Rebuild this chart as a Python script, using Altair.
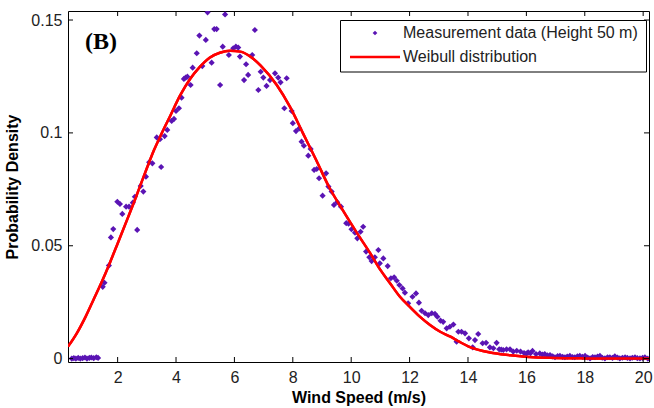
import altair as alt
import pandas as pd

# ---- measurement data (wind speed m/s, probability density) ----
meas_x = [0.43, 0.50, 0.57, 0.65, 0.72, 0.80, 0.88, 0.95, 1.03, 1.10, 1.18, 1.27, 1.33,
          1.49, 1.55, 1.70, 1.77, 1.85, 1.99, 2.08, 2.16, 2.29, 2.39, 2.52, 2.59, 2.67,
          2.79, 2.88, 2.97, 3.08, 3.19, 3.34, 3.45, 3.49, 3.61, 3.70, 3.85, 3.93, 4.00,
          4.10, 4.19, 4.27, 4.33, 4.39, 4.50, 4.57, 4.71, 4.80, 4.90, 5.02, 5.08, 5.22,
          5.31, 5.39, 5.51, 5.60, 5.68, 5.81, 5.96, 6.05, 6.13, 6.19, 6.33, 6.40, 6.47,
          6.61, 6.70, 6.82, 6.90, 6.99, 7.10, 7.22, 7.39, 7.50, 7.58, 7.71, 7.79, 7.96,
          8.00, 8.11, 8.22, 8.30, 8.38, 8.53, 8.61, 8.73, 8.82, 8.90, 9.02, 9.14, 9.22,
          9.33, 9.41, 9.52, 9.65, 9.83, 9.91, 10.01, 10.13, 10.21, 10.32, 10.41, 10.51,
          10.62, 10.70, 10.81, 10.93, 10.98, 11.10, 11.25, 11.36, 11.47, 11.56, 11.65,
          11.76, 11.84, 11.95, 12.10, 12.22, 12.32, 12.41, 12.53, 12.64, 12.76, 12.87,
          12.95, 13.06, 13.15, 13.27, 13.38, 13.50, 13.61, 13.67, 13.78, 13.90, 14.03,
          14.16, 14.24, 14.35, 14.50, 14.62, 14.75, 14.87, 14.98, 15.07, 15.14, 15.21,
          15.32, 15.44, 15.55, 15.67, 15.80, 15.92, 16.00, 16.06, 16.14, 16.21, 16.33,
          16.46, 16.55, 16.63, 16.72, 16.81, 16.90, 16.98, 17.07, 17.15, 17.24, 17.32,
          17.40, 17.49, 17.58, 17.66, 17.75, 17.83, 17.92, 18.01, 18.10, 18.18, 18.27,
          18.35, 18.44, 18.52, 18.60, 18.69, 18.78, 18.86, 18.95, 19.03, 19.12, 19.20,
          19.29, 19.38, 19.46, 19.55, 19.63, 19.72, 19.80, 19.89, 19.98, 20.06, 20.16]
meas_y = [0.0000, 0.0002, 0.0000, 0.0003, 0.0000, 0.0002, 0.0005, 0.0000, 0.0003, 0.0005,
          0.0002, 0.0006, 0.0003,
          0.0318, 0.0336, 0.0412, 0.0537, 0.0574, 0.0695, 0.0685, 0.0641, 0.0673, 0.0673,
          0.0691, 0.0717, 0.0570, 0.0765, 0.0740, 0.0806, 0.0870, 0.0865, 0.0980, 0.0972,
          0.0849, 0.0986, 0.1013, 0.1053, 0.1062, 0.1097, 0.1109, 0.1156, 0.1239, 0.1245,
          0.1249, 0.1212, 0.1289, 0.1353, 0.1431, 0.1296, 0.1412, 0.1534, 0.1311, 0.1460,
          0.1460, 0.1212, 0.1382, 0.1525, 0.1345, 0.1375, 0.1382, 0.1378, 0.1338, 0.1234,
          0.1304, 0.1257, 0.1345, 0.1456, 0.1190, 0.1271, 0.1245, 0.1208, 0.1234, 0.1264,
          0.1245, 0.1224, 0.1109, 0.1242, 0.1097, 0.1043, 0.1008, 0.1020, 0.0961, 0.0943,
          0.0899, 0.0929, 0.0836, 0.0840, 0.0799, 0.0722, 0.0821, 0.0762, 0.0740, 0.0681,
          0.0693, 0.0673, 0.0600, 0.0598, 0.0573, 0.0558, 0.0533, 0.0562, 0.0584, 0.0474,
          0.0449, 0.0432, 0.0449, 0.0481, 0.0422, 0.0444, 0.0410, 0.0356, 0.0360, 0.0345,
          0.0326, 0.0311, 0.0292, 0.0245, 0.0274, 0.0289, 0.0248, 0.0212, 0.0201, 0.0193,
          0.0201, 0.0198, 0.0186, 0.0168, 0.0163, 0.0134, 0.0141, 0.0151, 0.0075, 0.0119,
          0.0119, 0.0112, 0.0090, 0.0050, 0.0082, 0.0109, 0.0068, 0.0070, 0.0050, 0.0046,
          0.0070, 0.0041, 0.0040, 0.0038, 0.0041, 0.0041, 0.0031, 0.0035, 0.0031, 0.0025,
          0.0022, 0.0028, 0.0024, 0.0034, 0.0020, 0.0023, 0.0018, 0.0020, 0.0014, 0.0016,
          0.0010, 0.0006, 0.0011, 0.0012, 0.0008, 0.0006, 0.0009, 0.0012, 0.0007, 0.0006,
          0.0010, 0.0012, 0.0008, 0.0012, 0.0005, 0.0001, 0.0007, 0.0006, 0.0009, 0.0012,
          0.0004, 0.0001, 0.0006, 0.0006, 0.0003, 0.0010, 0.0005, 0.0001, 0.0004, 0.0006,
          0.0003, 0.0001, 0.0004, 0.0006, 0.0002, 0.0001, 0.0003, 0.0006, 0.0000]

# ---- fitted Weibull curve ----
weib_x = [0.3, 0.6, 0.9, 1.17, 1.45, 1.68, 1.9, 2.14, 2.37, 2.59, 2.8, 3.02, 3.25, 3.51,
          3.8, 4.15, 4.5, 4.8, 5.15, 5.5, 5.85, 6.2, 6.55, 6.9, 7.45, 7.9, 8.35, 8.8, 9.25,
          9.7, 10.2, 10.65, 11.0, 11.33, 11.67, 12.0, 12.35, 12.7, 13.05, 13.4, 13.7,
          14.05, 14.75, 15.45, 16.1, 17.0, 18.0, 19.0, 20.2]
weib_y = [0.0053, 0.0112, 0.0185, 0.0260, 0.0338, 0.0407, 0.0478, 0.0555, 0.0630, 0.0703,
          0.0775, 0.0850, 0.0925, 0.0998, 0.1075, 0.1168, 0.1242, 0.1290, 0.1333, 0.1355,
          0.1364, 0.1360, 0.1338, 0.1298, 0.1212, 0.1116, 0.0998, 0.0880, 0.0758, 0.0660,
          0.0556, 0.0467, 0.0393, 0.0334, 0.0274, 0.0230, 0.0186, 0.0149, 0.0119, 0.0097,
          0.0075, 0.0052, 0.0027, 0.0015, 0.0007, 0.0003, 0.0001, 0.0000, 0.0000]

x_ticks = [2, 4, 6, 8, 10, 12, 14, 16, 18, 20]
y_ticks = [0, 0.05, 0.1, 0.15]
legend_labels = ["Measurement data (Height 50 m)", "Weibull distribution"]
panel_label = "(B)"

X_DOM = [0.3, 20.2]
Y_DOM = [-0.0015, 0.154]
W, H = 581, 351
PURPLE = "#5a14b4"
RED = "#ff0000"
FONT = "Liberation Sans"

meas = pd.DataFrame({"x": meas_x, "y": meas_y})
weib = pd.DataFrame({"x": weib_x, "y": weib_y})
xt = pd.DataFrame({"x": x_ticks})
yt = pd.DataFrame({"y": y_ticks})

xs = alt.Scale(domain=X_DOM, nice=False, zero=False)
ys = alt.Scale(domain=Y_DOM, nice=False, zero=False)

curve = alt.Chart(weib).mark_line(color=RED, strokeWidth=2.5, interpolate="monotone", clip=True).encode(
    x=alt.X("x:Q", scale=xs,
            axis=alt.Axis(values=x_ticks, title="Wind Speed (m/s)", domain=False, ticks=False,
                          grid=False, labelPadding=7, titlePadding=4)),
    y=alt.Y("y:Q", scale=ys,
            axis=alt.Axis(values=y_ticks, title="Probability Density", domain=False, ticks=False,
                          grid=False, labelPadding=6, titlePadding=10,
                          labelExpr="datum.value === 0 ? '0' : format(datum.value, '.2~f')")),
)

points = alt.Chart(meas).mark_point(shape="diamond", filled=True, color=PURPLE, size=38,
                                     opacity=1, clip=True).encode(
    x=alt.X("x:Q", scale=xs), y=alt.Y("y:Q", scale=ys))

tick_len = 5
bt = alt.Chart(xt).mark_rule(color="black", strokeWidth=1).encode(
    x=alt.X("x:Q", scale=xs), y=alt.value(H), y2=alt.value(H - tick_len))
tt = alt.Chart(xt).mark_rule(color="black", strokeWidth=1).encode(
    x=alt.X("x:Q", scale=xs), y=alt.value(0), y2=alt.value(tick_len))
lt = alt.Chart(yt).mark_rule(color="black", strokeWidth=1).encode(
    y=alt.Y("y:Q", scale=ys), x=alt.value(0), x2=alt.value(tick_len))
rt = alt.Chart(yt).mark_rule(color="black", strokeWidth=1).encode(
    y=alt.Y("y:Q", scale=ys), x=alt.value(W), x2=alt.value(W - tick_len))

one = alt.Data(values=[{"a": 1}])
leg_box = alt.Chart(one).mark_rect(fill="white", stroke="black", strokeWidth=1).encode(
    x=alt.value(272.5), x2=alt.value(578.5), y=alt.value(9.5), y2=alt.value(61))
leg_pt = alt.Chart(one).mark_point(shape="diamond", filled=True, color=PURPLE, size=22, opacity=1).encode(
    x=alt.value(307), y=alt.value(22))
leg_line = alt.Chart(one).mark_rule(color=RED, strokeWidth=2.5).encode(
    x=alt.value(282), x2=alt.value(332), y=alt.value(46))
leg_t1 = alt.Chart(one).mark_text(align="left", baseline="middle", font=FONT, fontSize=16,
                                  color="#222222").encode(
    x=alt.value(335), y=alt.value(22), text=alt.value(legend_labels[0]))
leg_t2 = alt.Chart(one).mark_text(align="left", baseline="middle", font=FONT, fontSize=16,
                                  color="#222222").encode(
    x=alt.value(335), y=alt.value(46), text=alt.value(legend_labels[1]))
blabel = alt.Chart(one).mark_text(align="left", baseline="middle", font="Liberation Serif",
                                  fontSize=24, fontWeight="bold", color="black").encode(
    x=alt.value(17), y=alt.value(31), text=alt.value(panel_label))

chart = alt.layer(curve, points, curve, bt, tt, lt, rt, leg_box, leg_pt, leg_line, leg_t1, leg_t2,
                  blabel).properties(
    width=W, height=H, autosize="none",
    padding={"left": 68, "top": 11, "right": 5, "bottom": 46},
).configure(background="white").configure_view(stroke="black", strokeWidth=1).configure_axis(
    labelFont=FONT, labelFontSize=16, labelColor="#222222",
    titleFont=FONT, titleFontSize=16, titleFontWeight="bold", titleColor="black",
)

chart.save("out.html", embed_options={"renderer": "svg", "actions": False})
